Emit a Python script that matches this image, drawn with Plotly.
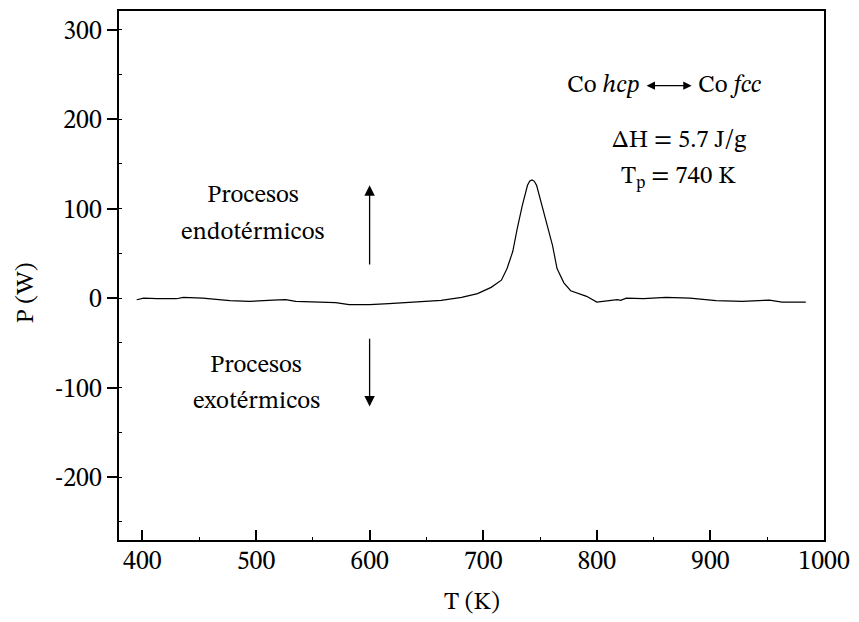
import plotly.graph_objects as go

# Temperature (K) and power signal (W)
T = [395, 401, 413, 430, 436, 453, 477, 494, 515, 526, 535, 553, 570, 582, 600,
     617, 643, 663, 681, 695, 707, 716, 721, 726, 730, 734.5, 739, 741, 743, 745,
     747, 752, 756, 761, 765, 771, 777, 791, 800, 818, 821, 826, 841, 861, 882,
     905, 928, 952, 963, 984]
P = [-1.8, 0, -0.7, -0.7, 0.8, 0, -2.9, -3.7, -2.2, -1.8, -3.7, -4.4, -5.1, -7.3, -7.3,
     -6.2, -4.4, -2.6, 0.8, 5, 12, 20, 33, 52, 78, 104, 126, 131, 132, 130.5,
     126, 102, 82, 59, 33, 17, 8.2, 2, -4.4, -1.8, -2.6, 0, -0.7, 0.8, 0,
     -2.9, -3.7, -2.2, -4.4, -4.4]

x_ticks = [400, 500, 600, 700, 800, 900, 1000]
y_ticks = [-200, -100, 0, 100, 200, 300]

FONT = "STIX Two Text, DejaVu Serif"
FS = 25
TFS = 26

fig = go.Figure()
fig.add_trace(go.Scatter(x=T, y=P, mode="lines",
                         line=dict(color="black", width=1.2), showlegend=False,
                         hoverinfo="skip"))

fig.update_layout(
    width=843, height=606,
    margin=dict(l=111, r=21, t=1, b=74),
    paper_bgcolor="white", plot_bgcolor="white",
    font=dict(family=FONT, size=FS, color="black"),
    showlegend=False,
)

fig.update_xaxes(
    range=[379.4, 1000], tickvals=x_ticks, ticktext=[str(v) for v in x_ticks],
    ticks="inside", ticklen=10, tickwidth=1.5, tickcolor="black",
    showline=True, linewidth=2, linecolor="black", mirror=True,
    showgrid=False, zeroline=False,
    minor=dict(dtick=50, tick0=0, ticks="inside", ticklen=3, tickwidth=1, tickcolor="black"),
    tickfont=dict(family=FONT, size=TFS, color="black"),
    ticklabelstandoff=-4, ticklabeloverflow="allow",
)
fig.update_yaxes(
    range=[-270.3, 320.8], tickvals=y_ticks, ticktext=[str(v) for v in y_ticks],
    ticks="outside", ticklen=10, tickwidth=1.5, tickcolor="black",
    showline=True, linewidth=2, linecolor="black", mirror=True,
    showgrid=False, zeroline=False,
    minor=dict(dtick=50, tick0=0, ticks="inside", ticklen=3, tickwidth=1, tickcolor="black"),
    tickfont=dict(family=FONT, size=TFS, color="black"),
    ticklabelstandoff=0,
)

ann = []
# axis titles
ann.append(dict(text="T (K)", xref="paper", yref="paper", x=0.5, y=0,
                yshift=-62, xanchor="center", yanchor="middle", showarrow=False,
                font=dict(family=FONT, size=FS)))
ann.append(dict(text="P (W)", xref="paper", yref="paper", x=0, y=0.5,
                xshift=-93, yshift=-18, textangle=-90, xanchor="center", yanchor="middle",
                showarrow=False, font=dict(family=FONT, size=FS)))

# process labels
for txt, x, y in [("Procesos", 497.7, 114.8), ("endotérmicos", 497.7, 73.8),
                  ("Procesos", 500.3, -75), ("exotérmicos", 500.3, -116)]:
    ann.append(dict(text=txt, x=x, y=y, xref="x", yref="y", showarrow=False,
                    xanchor="center", yanchor="middle", font=dict(family=FONT, size=FS)))

# vertical arrows
ann.append(dict(x=600, y=126, ax=600, ay=36, xref="x", yref="y", axref="x", ayref="y",
                text="", showarrow=True, arrowhead=2, arrowsize=1.6, arrowwidth=1.3,
                arrowcolor="black"))
ann.append(dict(x=600, y=-121, ax=600, ay=-43.7, xref="x", yref="y", axref="x", ayref="y",
                text="", showarrow=True, arrowhead=2, arrowsize=1.6, arrowwidth=1.3,
                arrowcolor="black"))

# transition label
ann.append(dict(text="Co <i>hcp</i>", x=839, y=237.4, xref="x", yref="y", showarrow=False,
                xanchor="right", yanchor="middle", font=dict(family=FONT, size=FS)))
ann.append(dict(text="Co <i>fcc</i>", x=887.5, y=237.4, xref="x", yref="y", showarrow=False,
                xanchor="left", yanchor="middle", font=dict(family=FONT, size=FS)))
ann.append(dict(x=883.5, y=237.4, ax=842.5, ay=237.4, xref="x", yref="y", axref="x", ayref="y",
                text="", showarrow=True, arrowhead=2, startarrowhead=2, arrowside="end+start",
                arrowsize=1.4, startarrowsize=1.4, arrowwidth=1.2, arrowcolor="black"))

ann.append(dict(text="ΔH = 5.7 J/g", x=872.7, y=176.3, xref="x", yref="y", showarrow=False,
                xanchor="center", yanchor="middle", font=dict(family=FONT, size=FS)))
ann.append(dict(text="T<sub>p</sub> = 740 K", x=872, y=134, xref="x", yref="y", showarrow=False,
                xanchor="center", yanchor="middle", font=dict(family=FONT, size=FS)))

fig.update_layout(annotations=ann)

fig.write_html("out.html")
